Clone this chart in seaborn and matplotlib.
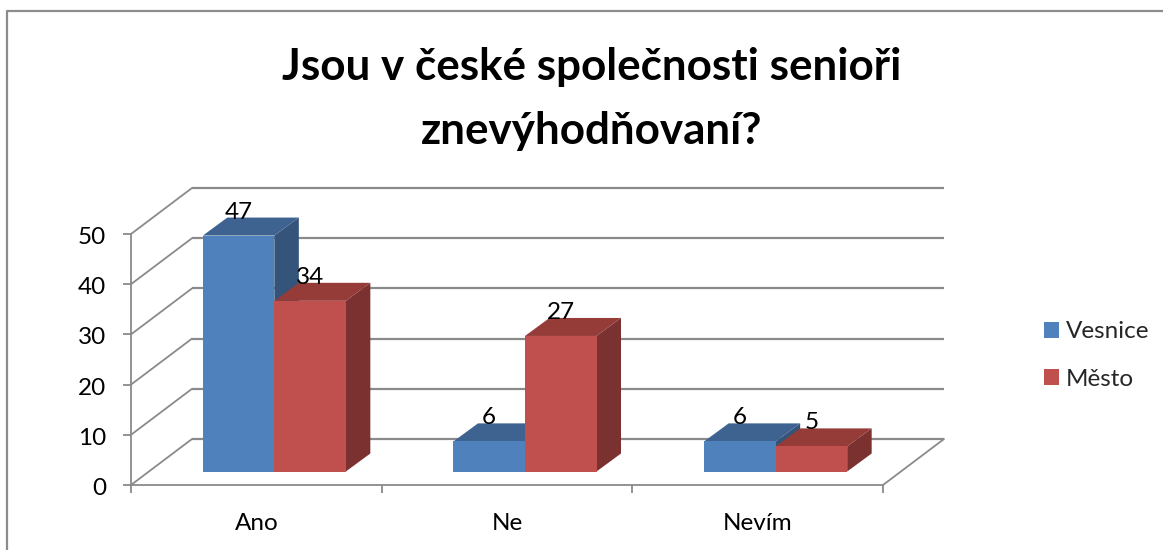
import matplotlib
matplotlib.use("Agg")
import matplotlib.pyplot as plt
from matplotlib.lines import Line2D
from matplotlib.patches import Polygon, Patch
from matplotlib.transforms import Affine2D, IdentityTransform
import pandas as pd
import seaborn as sns

title = "Jsou v české společnosti senioři\nznevýhodňovaní?"
categories = ["Ano", "Ne", "Nevím"]
series_names = ["Vesnice", "Město"]
vesnice = [47, 6, 6]
mesto = [34, 27, 5]
y_ticks = [0, 10, 20, 30, 40, 50]

W, H = 1163, 550
FONT = "Lato"
GRID = "#8a8a8a"
front = {"Vesnice": "#4F81BD", "Město": "#C0504D"}
top_c = {"Vesnice": "#3E6391", "Město": "#953C39"}
side_c = {"Vesnice": "#345479", "Město": "#7B312F"}
bar_off = (18, 13.5)      # front face of bars relative to front of floor, px
bar_depth = (24.5, 18)
wall_off = (61, 46)

sns.set_theme(style="white")
plt.rcParams["font.family"] = [FONT, "DejaVu Sans"]

fig = plt.figure(figsize=(W / 100, H / 100), dpi=100, facecolor="white")
ax = fig.add_axes([131 / W, (H - 485) / H, 752 / W, 251 / H])

df = pd.DataFrame({
    "cat": categories * 2,
    "val": vesnice + mesto,
    "ser": [series_names[0]] * 3 + [series_names[1]] * 3,
})
sns.barplot(data=df, x="cat", y="val", hue="ser", hue_order=series_names,
            order=categories, palette=front, width=0.5705, gap=0,
            saturation=1, legend=False, ax=ax, zorder=5, linewidth=0)
ax.set_xlim(-0.5, 2.5)
ax.set_ylim(0, 50)
ax.set_xlabel("")
ax.set_ylabel("")
ax.patch.set_alpha(0)

# walls and gridlines
back = ax.transData + Affine2D().translate(*wall_off)
for v in y_ticks:
    ax.plot([-0.5, 2.5], [v, v], color=GRID, lw=1.6, transform=back,
            clip_on=False, zorder=1, solid_capstyle="butt")
    (x0, y0) = ax.transData.transform((-0.5, v))
    ax.add_line(Line2D([x0, x0 + wall_off[0]], [y0, y0 + wall_off[1]], color=GRID, lw=1.3,
                       transform=IdentityTransform(), clip_on=False, zorder=1))
(x1, y1) = ax.transData.transform((2.5, 0))
ax.add_line(Line2D([x1, x1 + wall_off[0]], [y1, y1 + wall_off[1]], color=GRID, lw=1.3,
                   transform=IdentityTransform(), clip_on=False, zorder=1))

# bars: shift front faces, add the 3D faces
shift = ax.transData + Affine2D().translate(*bar_off)
bars = list(ax.containers)
dx, dy = bar_depth
for i in range(len(categories)):
    for j, name in enumerate(series_names):
        b = bars[j][i]
        b.set_transform(shift)
        b.set_clip_on(False)
        x, w, h = b.get_x(), b.get_width(), b.get_height()
        (xa, ya) = shift.transform((x, 0))
        (xb, yb) = shift.transform((x + w, h))
        z = 2 + j
        ax.add_patch(Polygon([(xb, ya), (xb + dx, ya + dy), (xb + dx, yb + dy), (xb, yb)],
                             closed=True, fc=side_c[name], ec="none",
                             transform=IdentityTransform(), clip_on=False, zorder=z))
        ax.add_patch(Polygon([(xa, yb), (xb, yb), (xb + dx, yb + dy), (xa + dx, yb + dy)],
                             closed=True, fc=top_c[name], ec="none",
                             transform=IdentityTransform(), clip_on=False, zorder=z))
        fig.text((xa + xb) / 2 / W, (yb + dy - 1) / H, str(int(h)), ha="center", va="baseline",
                 fontsize=17.5, color="black", family=[FONT, "DejaVu Sans"], zorder=10)

# axes
for s in ["top", "right"]:
    ax.spines[s].set_visible(False)
for s in ["left", "bottom"]:
    ax.spines[s].set_color(GRID)
    ax.spines[s].set_linewidth(1.3)
    ax.spines[s].set_zorder(1)
ax.set_yticks(y_ticks)
ax.set_xticks([-0.5, 0.5, 1.5, 2.5])
ax.set_xticklabels([])
ax.set_xticks([0, 1, 2], minor=True)
ax.set_xticklabels(categories, minor=True)
ax.tick_params(axis="both", which="major", length=5.8, width=1.3, color=GRID, left=True, bottom=True)
ax.tick_params(axis="y", labelsize=17.5, pad=12, labelcolor="black")
ax.tick_params(axis="x", which="minor", length=0, labelsize=17.5, pad=20, labelcolor="black")
for lbl in ax.get_yticklabels():
    lbl.set_transform(lbl.get_transform() + Affine2D().translate(0, -1.5))

# legend
handles = [Patch(fc=front[n], ec="none", label=n) for n in series_names]
fig.legend(handles=handles, loc="center left", bbox_to_anchor=(1039 / W, (H - 355.5) / H),
           frameon=False, fontsize=17.5, handlelength=0.62, handleheight=0.62,
           handletextpad=0.3, labelspacing=1.08, borderpad=0.2, borderaxespad=0)

# title and chart frame
fig.text(592 / W, (H - 99) / H, title, ha="center", va="center", fontsize=31.7,
         fontweight="bold", color="black", linespacing=1.75, family=[FONT, "DejaVu Sans"])
fig.add_artist(Line2D([7 / W, 7 / W, 1], [0, (H - 11) / H, (H - 11) / H], color="#8c8c8c", lw=1.6))

fig.savefig("out.png", dpi=100)
